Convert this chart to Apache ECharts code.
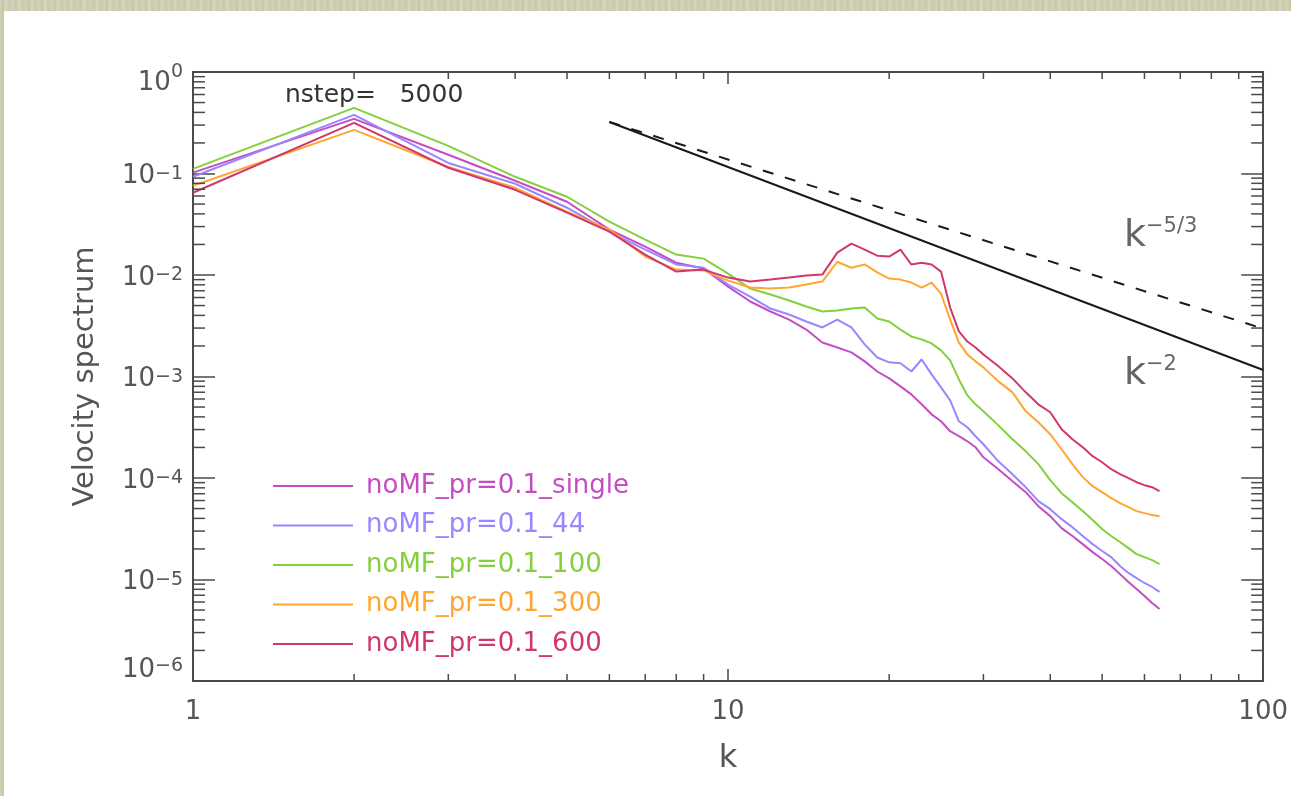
<!DOCTYPE html>
<html>
<head>
<meta charset="utf-8">
<title>Velocity spectrum</title>
<script src="https://cdn.jsdelivr.net/npm/echarts@6/dist/echarts.min.js"></script>
<style>
html, body { margin: 0; padding: 0; width: 100%; height: 100%; overflow: hidden; }
body {
    background: repeating-linear-gradient(90deg, #d4d2b8 0px, #c8c6a8 3px, #d8d6bd 6px, #cccaad 9px, #d2d0b5 13px);
}
#chart { position: absolute; left: 4px; top: 11px; width: 1287px; height: 785px; background: #fff; }
</style>
</head>
<body>
<div id="chart"></div>
<script>
// wavenumbers (shared by all runs)
const k = [1, 2, 3, 4, 5, 6, 7, 8, 9, 10,
    11, 12, 13, 14, 15, 16, 17, 18, 19, 20,
    21, 22, 23, 24, 25, 26, 27, 28, 29, 30,
    32, 34, 36, 38, 40, 42, 44, 46, 48, 50, 52, 54, 56, 58, 60, 62, 64]

const single = [0.102, 0.345, 0.153, 0.0848, 0.0527, 0.0280, 0.0190, 0.0132, 0.0116, 0.00769,
    0.00548, 0.00437, 0.00364, 0.00290, 0.00216, 0.00193, 0.00173, 0.00141, 0.00112, 0.000958,
    0.000799, 0.000667, 0.000532, 0.000424, 0.000362, 0.000289, 0.000258, 0.000230, 0.000201, 0.000160,
    0.000122, 9.30e-5, 7.25e-5, 5.28e-5, 4.21e-5, 3.21e-5, 2.68e-5, 2.23e-5, 1.86e-5, 1.59e-5,
    1.36e-5, 1.13e-5, 9.45e-6, 8.07e-6, 6.88e-6, 5.87e-6, 5.13e-6]

const run44 = [0.0928, 0.378, 0.127, 0.0792, 0.0460, 0.0267, 0.0178, 0.0127, 0.0118, 0.00805,
    0.00613, 0.00467, 0.00408, 0.00348, 0.00304, 0.00364, 0.00304, 0.00207, 0.00154, 0.00138,
    0.00135, 0.00112, 0.00147, 0.00105, 0.000781, 0.000582, 0.000362, 0.000316, 0.000258, 0.000215,
    0.000146, 0.000109, 8.12e-5, 5.91e-5, 4.93e-5, 3.93e-5, 3.28e-5, 2.68e-5, 2.23e-5, 1.91e-5,
    1.66e-5, 1.36e-5, 1.16e-5, 1.03e-5, 9.24e-6, 8.44e-6, 7.54e-6]

const run100 = [0.111, 0.443, 0.187, 0.0928, 0.0590, 0.0335, 0.0223, 0.0159, 0.0145, 0.0103,
    0.00735, 0.00642, 0.00560, 0.00489, 0.00437, 0.00447, 0.00467, 0.00478, 0.00373, 0.00348,
    0.00290, 0.00248, 0.00232, 0.00212, 0.00181, 0.00144, 0.000936, 0.000652, 0.000532, 0.000454,
    0.000330, 0.000241, 0.000183, 0.000137, 9.51e-5, 7.09e-5, 5.78e-5, 4.72e-5, 3.85e-5, 3.14e-5,
    2.68e-5, 2.34e-5, 2.04e-5, 1.78e-5, 1.66e-5, 1.55e-5, 1.42e-5]

const run300 = [0.0757, 0.269, 0.116, 0.0723, 0.0420, 0.0280, 0.0152, 0.0113, 0.0111, 0.00881,
    0.00752, 0.00735, 0.00752, 0.00805, 0.00861, 0.0135, 0.0118, 0.0127, 0.0106, 0.00922,
    0.00901, 0.00842, 0.00752, 0.00842, 0.00656, 0.00364, 0.00216, 0.00165, 0.00141, 0.00123,
    0.000895, 0.000698, 0.000454, 0.000354, 0.000270, 0.000192, 0.000137, 0.000102, 8.31e-5, 7.25e-5,
    6.33e-5, 5.65e-5, 5.16e-5, 4.72e-5, 4.51e-5, 4.31e-5, 4.21e-5]

const run600 = [0.0646, 0.315, 0.114, 0.0691, 0.0411, 0.0267, 0.0159, 0.0108, 0.0113, 0.00943,
    0.00861, 0.00901, 0.00943, 0.00987, 0.0101, 0.0166, 0.0204, 0.0178, 0.0155, 0.0152,
    0.0178, 0.0127, 0.0132, 0.0127, 0.0108, 0.00478, 0.00278, 0.00221, 0.00193, 0.00165,
    0.00126, 0.000958, 0.000698, 0.000532, 0.000444, 0.000302, 0.000241, 0.000201, 0.000164, 0.000143,
    0.000122, 0.000109, 9.95e-5, 9.09e-5, 8.50e-5, 8.12e-5, 7.41e-5]

// power law guides
const refK = [6, 100]
const refKm2 = [0.322, 0.00116]
const refKm53 = [0.322, 0.00296]

const runNames = ['noMF_pr=0.1_single', 'noMF_pr=0.1_44', 'noMF_pr=0.1_100', 'noMF_pr=0.1_300', 'noMF_pr=0.1_600']
const runColors = ['#c44dc4', '#9a86ff', '#84d03c', '#ffa630', '#d0386c']
const runData = [single, run44, run100, run300, run600]

// minor tick positions
const xMinorTicks = [2, 3, 4, 5, 6, 7, 8, 9, 20, 30, 40, 50, 60, 70, 80, 90]
const yMinorTicks = []
for (let e = -6; e < 0; e++) {
    for (let m = 2; m <= 9; m++) yMinorTicks.push(m * Math.pow(10, e))
}

const FONT = "'DejaVu Sans', sans-serif"
const TXT = '#555'
const FRAME = '#4a4a4a'

const chart = echarts.init(document.getElementById('chart'))

function supExp(e) {
    return e < 0 ? '\u2212' + (-e) : String(e)
}

// y labels: IDL nudges the end labels inward, a tall spacer token does that here
function yLabel(v) {
    const e = Math.round(Math.log10(v))
    if (e === 0) return '{sp| }{bt|10}{st|' + supExp(e) + '}'
    if (e === -6) return '{sp| }{bm|10}{sm|' + supExp(e) + '}'
    return '{b|10}{s|' + supExp(e) + '}'
}

const baseStyle = { fontFamily: FONT, fontSize: 26, color: TXT, lineHeight: 30 }
const supStyle = { fontFamily: FONT, fontSize: 19, color: TXT, lineHeight: 18, verticalAlign: 'top' }
const yRich = {
    b: Object.assign({}, baseStyle, { padding: [6, 0, 0, 0] }),
    s: Object.assign({}, supStyle, { padding: [6, 0, 0, 0] }),
    sp: { fontSize: 1, lineHeight: 48 },
    bt: Object.assign({}, baseStyle, { verticalAlign: 'bottom' }),
    st: Object.assign({}, supStyle, { verticalAlign: 'middle' }),
    bm: Object.assign({}, baseStyle, { verticalAlign: 'top' }),
    sm: Object.assign({}, supStyle, { lineHeight: 16, verticalAlign: 'top' })
}

const xAxisBase = {
    type: 'log', logBase: 10, min: 1, max: 100, splitNumber: 2,
    axisLine: { show: true, lineStyle: { color: FRAME, width: 2 } },
    axisTick: { show: true, inside: true, length: 12, lineStyle: { color: FRAME, width: 1.5 } },
    splitLine: { show: false },
    minorTick: { show: false }
}
const yAxisBase = {
    type: 'log', logBase: 10, min: 1e-6, max: 1, splitNumber: 6,
    axisLine: { show: true, lineStyle: { color: FRAME, width: 2 } },
    axisTick: { show: true, inside: true, length: 22, lineStyle: { color: FRAME, width: 1.5 } },
    splitLine: { show: false },
    minorTick: { show: false }
}

const series = runNames.map((name, i) => ({
    name: name,
    type: 'line',
    symbol: 'none',
    color: runColors[i],
    lineStyle: { width: 2, color: runColors[i] },
    data: k.map((kk, j) => [kk, runData[i][j]]),
    z: 3
}))

series.push({
    type: 'line', symbol: 'none', silent: true,
    lineStyle: { width: 2, color: '#1a1a1a' },
    data: refK.map((kk, j) => [kk, refKm2[j]]), z: 4
})
series.push({
    type: 'line', symbol: 'none', silent: true,
    lineStyle: { width: 2, color: '#1a1a1a', type: [11, 12] },
    data: refK.map((kk, j) => [kk, refKm53[j]]), z: 4
})

// minor ticks on all four sides
series.push({
    type: 'custom', silent: true, clip: false, z: 5,
    data: xMinorTicks.map(v => [v, 1e-6]),
    renderItem: function (params, api) {
        const cs = params.coordSys
        const p = api.coord([api.value(0), 1e-6])
        const st = { stroke: FRAME, lineWidth: 1.5 }
        return {
            type: 'group', children: [
                { type: 'line', shape: { x1: p[0], y1: cs.y + cs.height, x2: p[0], y2: cs.y + cs.height - 7 }, style: st },
                { type: 'line', shape: { x1: p[0], y1: cs.y, x2: p[0], y2: cs.y + 7 }, style: st }
            ]
        }
    }
})
series.push({
    type: 'custom', silent: true, clip: false, z: 5,
    data: yMinorTicks.map(v => [1, v]),
    renderItem: function (params, api) {
        const cs = params.coordSys
        const p = api.coord([1, api.value(1)])
        const st = { stroke: FRAME, lineWidth: 1.5 }
        return {
            type: 'group', children: [
                { type: 'line', shape: { x1: cs.x, y1: p[1], x2: cs.x + 12, y2: p[1] }, style: st },
                { type: 'line', shape: { x1: cs.x + cs.width, y1: p[1], x2: cs.x + cs.width - 12, y2: p[1] }, style: st }
            ]
        }
    }
})

const option = {
    animation: false,
    backgroundColor: '#fff',
    grid: { left: 189, top: 61, width: 1073, height: 609 },
    legend: {
        orient: 'vertical',
        left: 268,
        top: 462,
        padding: 0,
        itemWidth: 80,
        itemHeight: 4,
        itemGap: 13.5,
        itemStyle: { opacity: 0 },
        data: runNames.map((n, i) => ({ name: n, textStyle: { color: runColors[i] } })),
        textStyle: { fontFamily: FONT, fontSize: 26, lineHeight: 26, padding: [0, 0, 0, 8] }
    },
    xAxis: [
        Object.assign({}, xAxisBase, {
            position: 'bottom',
            name: 'k', nameLocation: 'middle', nameGap: 62,
            nameTextStyle: { fontFamily: FONT, fontSize: 32, color: TXT },
            axisLabel: {
                margin: 18, fontFamily: FONT, fontSize: 26, color: TXT,
                formatter: v => String(Math.round(v))
            }
        }),
        Object.assign({}, xAxisBase, { position: 'top', axisLabel: { show: false } })
    ],
    yAxis: [
        Object.assign({}, yAxisBase, {
            position: 'left',
            name: 'Velocity spectrum', nameLocation: 'middle', nameGap: 93,
            nameTextStyle: { fontFamily: FONT, fontSize: 29, color: TXT },
            axisLabel: { margin: 10, formatter: yLabel, rich: yRich }
        }),
        Object.assign({}, yAxisBase, { position: 'right', axisLabel: { show: false } })
    ],
    graphic: [
        {
            type: 'text', left: 281, top: 72,
            style: { text: 'nstep=   5000', fontFamily: FONT, fontSize: 25, fill: '#333' }
        },
        {
            type: 'text', left: 1120, top: 205,
            style: {
                text: '{k|k}{s|\u22125/3}',
                rich: {
                    k: { fontFamily: FONT, fontSize: 38, fill: '#666', lineHeight: 40 },
                    s: { fontFamily: FONT, fontSize: 21, fill: '#666', lineHeight: 26, verticalAlign: 'top' }
                }
            }
        },
        {
            type: 'text', left: 1120, top: 343,
            style: {
                text: '{k|k}{s|\u22122}',
                rich: {
                    k: { fontFamily: FONT, fontSize: 38, fill: '#666', lineHeight: 40 },
                    s: { fontFamily: FONT, fontSize: 21, fill: '#666', lineHeight: 26, verticalAlign: 'top' }
                }
            }
        }
    ],
    series: series
}

chart.setOption(option)
window.onresize = function () { chart.resize() }
</script>
</body>
</html>
